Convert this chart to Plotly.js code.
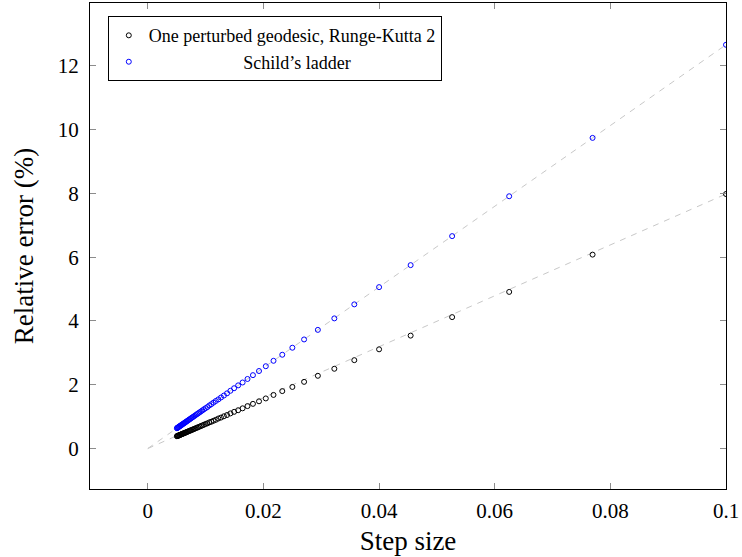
<!DOCTYPE html>
<html>
<head>
<meta charset="utf-8">
<script src="https://cdn.plot.ly/plotly-3.0.1.min.js"></script>
<style>html,body{margin:0;padding:0;background:#fff;}#chart{width:742px;height:557px;}</style>
</head>
<body>
<div id="chart"></div>
<script>
// Step sizes (h = 1/n)
const stepSize = [
  0.1, 0.076923, 0.0625, 0.052632, 0.045455, 0.04, 0.035714, 0.032258, 0.029412, 0.027027,
  0.025, 0.023256, 0.021739, 0.020408, 0.019231, 0.018182, 0.017241, 0.016393, 0.015625, 0.014925,
  0.014286, 0.013699, 0.013158, 0.012658, 0.012195, 0.011765, 0.011364, 0.010989, 0.010638, 0.010309,
  0.01, 0.009709, 0.009434, 0.009174, 0.008929, 0.008696, 0.008475, 0.008264, 0.008065, 0.007874,
  0.007692, 0.007519, 0.007353, 0.007194, 0.007042, 0.006897, 0.006757, 0.006623, 0.006494, 0.006369,
  0.00625, 0.006135, 0.006024, 0.005917, 0.005814, 0.005714, 0.005618, 0.005525, 0.005435, 0.005348,
  0.005263, 0.005181, 0.005102, 0.005025
];
// Relative error (%) - one perturbed geodesic, Runge-Kutta 2
const errRK2 = [
  7.98, 6.08, 4.91, 4.12, 3.54, 3.11, 2.77, 2.50, 2.28, 2.09,
  1.93, 1.80, 1.68, 1.57, 1.48, 1.40, 1.33, 1.26, 1.20, 1.15,
  1.10, 1.05, 1.01, 0.97, 0.94, 0.90, 0.87, 0.84, 0.82, 0.79,
  0.77, 0.745, 0.724, 0.704, 0.685, 0.667, 0.649, 0.633, 0.618, 0.604,
  0.590, 0.576, 0.564, 0.552, 0.540, 0.529, 0.518, 0.507, 0.497, 0.488,
  0.479, 0.470, 0.461, 0.453, 0.445, 0.438, 0.430, 0.423, 0.416, 0.410,
  0.403, 0.397, 0.391, 0.385
];
// Relative error (%) - Schild's ladder
const errSchild = [
  12.66, 9.74, 7.91, 6.66, 5.75, 5.06, 4.52, 4.08, 3.72, 3.42,
  3.16, 2.94, 2.75, 2.58, 2.43, 2.30, 2.18, 2.07, 1.98, 1.89,
  1.81, 1.73, 1.66, 1.60, 1.54, 1.49, 1.44, 1.39, 1.35, 1.30,
  1.265, 1.229, 1.194, 1.161, 1.130, 1.101, 1.073, 1.046, 1.021, 0.997,
  0.974, 0.952, 0.931, 0.911, 0.891, 0.873, 0.855, 0.838, 0.822, 0.806,
  0.791, 0.777, 0.763, 0.749, 0.736, 0.723, 0.711, 0.699, 0.688, 0.677,
  0.666, 0.656, 0.646, 0.636
];
// Reference (linear) guide lines
const guideX = [0, 0.1];
const guideRK2 = [0, 7.98];
const guideSchild = [0, 12.66];

const xTicks = [0, 0.02, 0.04, 0.06, 0.08, 0.1];
const xTickText = ['0', '0.02', '0.04', '0.06', '0.08', '0.1'];
const yTicks = [0, 2, 4, 6, 8, 10, 12];
const yTickText = ['0', '2', '4', '6', '8', '10', '12'];

const nameRK2 = 'One perturbed geodesic, Runge-Kutta 2';
const nameSchild = 'Schild’s ladder';

const serif = 'Liberation Serif, Times New Roman, serif';
const pad = '\u00A0'.repeat(21);

const traces = [
  {x: guideX, y: guideRK2, mode: 'lines', showlegend: false, hoverinfo: 'skip',
   line: {color: '#c8c8c8', width: 1, dash: '6px,6px'}},
  {x: guideX, y: guideSchild, mode: 'lines', showlegend: false, hoverinfo: 'skip',
   line: {color: '#c8c8c8', width: 1, dash: '6px,6px'}},
  {x: stepSize, y: errRK2, mode: 'markers', name: nameRK2,
   marker: {symbol: 'circle-open', size: 5, color: '#000', line: {width: 1, color: '#000'}}},
  {x: stepSize, y: errSchild, mode: 'markers', name: pad + nameSchild,
   marker: {symbol: 'circle-open', size: 5, color: '#0000ff', line: {width: 1, color: '#0000ff'}}}
];

const layout = {
  width: 742, height: 557,
  margin: {l: 90, r: 16, t: 3, b: 68},
  paper_bgcolor: '#fff', plot_bgcolor: '#fff',
  font: {family: serif, color: '#000', size: 21},
  xaxis: {
    range: [-0.01, 0.1], tickvals: xTicks, ticktext: xTickText,
    showgrid: false, zeroline: false,
    showline: true, linecolor: '#000', linewidth: 1, mirror: 'allticks',
    ticks: 'inside', ticklen: 6, tickcolor: '#8c8c8c', tickwidth: 1,
    tickfont: {family: serif, size: 21}, ticklabelstandoff: 3,
    title: {text: 'Step size', font: {family: serif, size: 27}, standoff: 8}
  },
  yaxis: {
    range: [-1.27, 13.97], tickvals: yTicks, ticktext: yTickText,
    showgrid: false, zeroline: false,
    showline: true, linecolor: '#000', linewidth: 1, mirror: 'allticks',
    ticks: 'inside', ticklen: 6, tickcolor: '#8c8c8c', tickwidth: 1,
    tickfont: {family: serif, size: 21}, ticklabelstandoff: 6,
    title: {text: 'Relative error (%)', font: {family: serif, size: 27}, standoff: 16}
  },
  legend: {
    x: 0.028, y: 0.973, xanchor: 'left', yanchor: 'top',
    bgcolor: '#fff', bordercolor: '#000', borderwidth: 1,
    font: {family: serif, size: 18}, tracegroupgap: 0, itemwidth: 30
  },
  showlegend: true
};

Plotly.newPlot('chart', traces, layout, {displayModeBar: false, staticPlot: true});
</script>
</body>
</html>
